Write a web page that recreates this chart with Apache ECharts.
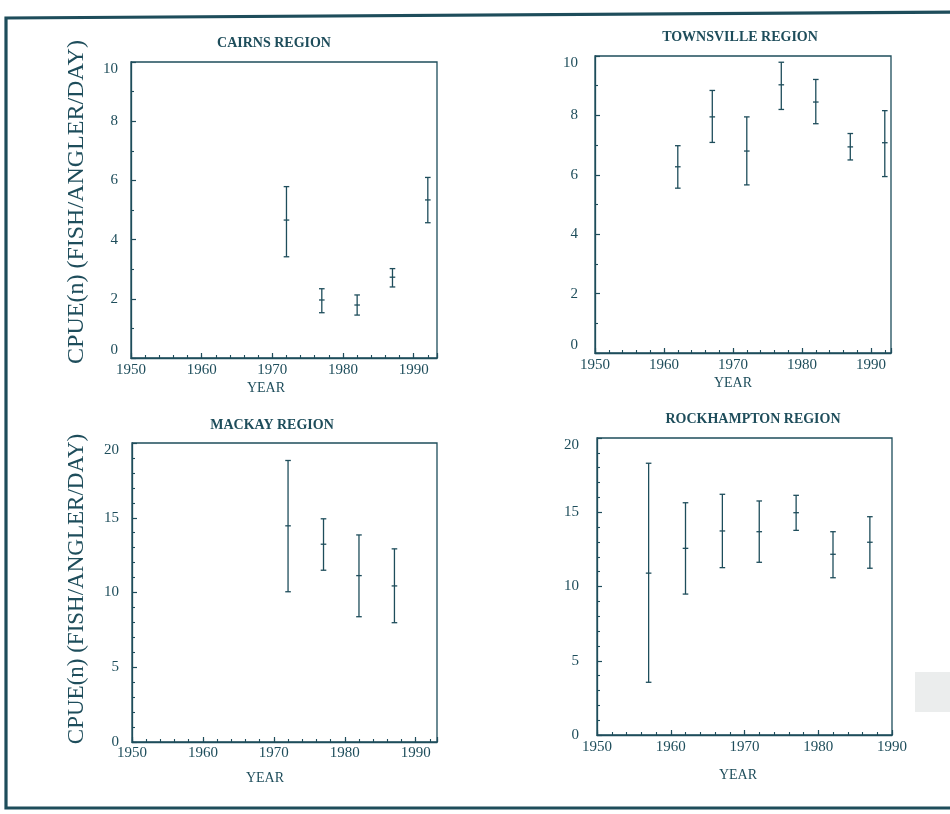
<!DOCTYPE html>
<html><head><meta charset="utf-8">
<script src="https://cdn.jsdelivr.net/npm/echarts@6/dist/echarts.min.js"></script>
<style>html,body{margin:0;padding:0;background:#fff}#c{width:950px;height:814px}</style>
</head><body><div id="c"></div>
<script>
// ---- data ----
const cairnsYears = [1972, 1977, 1982, 1987, 1992];
const cairnsMean  = [4.66, 1.96, 1.79, 2.73, 5.34];
const cairnsLow   = [3.42, 1.53, 1.45, 2.40, 4.57];
const cairnsHigh  = [5.79, 2.34, 2.13, 3.02, 6.10];

const townsvilleYears = [1962, 1967, 1972, 1977, 1982, 1987, 1992];
const townsvilleMean  = [6.27, 7.95, 6.80, 9.03, 8.45, 6.94, 7.08];
const townsvilleLow   = [5.55, 7.09, 5.66, 8.20, 7.72, 6.50, 5.94];
const townsvilleHigh  = [6.98, 8.84, 7.95, 9.79, 9.21, 7.39, 8.16];

const mackayYears = [1972, 1977, 1982, 1987];
const mackayMean  = [14.46, 13.23, 11.13, 10.44];
const mackayLow   = [10.05, 11.49, 8.38, 7.98];
const mackayHigh  = [18.83, 14.93, 13.85, 12.92];

const rockYears = [1957, 1962, 1967, 1972, 1977, 1982, 1987];
const rockMean  = [10.90, 12.57, 13.74, 13.69, 14.97, 12.17, 12.98];
const rockLow   = [3.55, 9.49, 11.27, 11.63, 13.78, 10.59, 11.23];
const rockHigh  = [18.30, 15.64, 16.21, 15.76, 16.14, 13.69, 14.70];

const yTicks10 = [0, 2, 4, 6, 8, 10];
const yTicks20 = [0, 5, 10, 15, 20];
const xTickLabels = [1950, 1960, 1970, 1980, 1990];

const titles = ['CAIRNS REGION', 'TOWNSVILLE REGION', 'MACKAY REGION', 'ROCKHAMPTON REGION'];
const yName = 'CPUE(n) (FISH/ANGLER/DAY)';
const xName = 'YEAR';

// ---- style ----
const INK = '#1e4d5b';
const FONT = '"Liberation Serif", "Times New Roman", serif';

function rows(years, mean, low, high) {
  return years.map((y, i) => [y, mean[i], low[i], high[i]]);
}

function errRender(params, api) {
  const x = api.value(0), m = api.value(1), lo = api.value(2), hi = api.value(3);
  const pm = api.coord([x, m]), pl = api.coord([x, lo]), ph = api.coord([x, hi]);
  const w = 2.8;
  const style = { stroke: INK, lineWidth: 1.3 };
  return { type: 'group', children: [
    { type: 'line', shape: { x1: pl[0], y1: pl[1], x2: ph[0], y2: ph[1] }, style },
    { type: 'line', shape: { x1: ph[0] - w, y1: ph[1], x2: ph[0] + w, y2: ph[1] }, style },
    { type: 'line', shape: { x1: pl[0] - w, y1: pl[1], x2: pl[0] + w, y2: pl[1] }, style },
    { type: 'line', shape: { x1: pm[0] - w, y1: pm[1], x2: pm[0] + w, y2: pm[1] }, style }
  ]};
}

const panels = [
  { grid: { left: 131, top: 62, width: 306, height: 296 }, xMax: 1993.3, yMax: 10, yStep: 2, yMinor: 2,
    yMargin: 13, xMargin: 5, minBottom: true, data: rows(cairnsYears, cairnsMean, cairnsLow, cairnsHigh) },
  { grid: { left: 595, top: 56, width: 296, height: 297 }, xMax: 1992.9, yMax: 10, yStep: 2, yMinor: 2,
    yMargin: 17, xMargin: 5, minBottom: true, data: rows(townsvilleYears, townsvilleMean, townsvilleLow, townsvilleHigh) },
  { grid: { left: 132, top: 443, width: 305, height: 299 }, xMax: 1993.0, yMax: 20, yStep: 5, yMinor: 5,
    yMargin: 13, xMargin: 4, minBottom: false, data: rows(mackayYears, mackayMean, mackayLow, mackayHigh) },
  { grid: { left: 597, top: 438, width: 295, height: 297 }, xMax: 1990, yMax: 20, yStep: 5, yMinor: 5,
    yMargin: 18, xMargin: 5, minBottom: false, data: rows(rockYears, rockMean, rockLow, rockHigh) }
];

const grids = [], xAxes = [], yAxes = [], series = [];
panels.forEach((p, i) => {
  grids.push(Object.assign({ show: true, borderColor: INK, borderWidth: 1.3, backgroundColor: 'transparent' }, p.grid));
  const labelStyle = { color: INK, fontFamily: FONT, fontSize: 15 };
  xAxes.push({
    type: 'value', gridIndex: i, position: 'bottom', min: 1950, max: p.xMax, interval: 10,
    axisLine: { show: true, lineStyle: { color: INK, width: 1.3 } },
    axisTick: { show: true, inside: true, length: 5, lineStyle: { color: INK, width: 1.2 } },
    axisLabel: Object.assign({ margin: p.xMargin,
      formatter: v => (xTickLabels.indexOf(Math.round(v * 1000) / 1000) >= 0 ? String(v) : '') }, labelStyle),
    splitLine: { show: false }
  });
  xAxes.push({
    type: 'value', gridIndex: i, position: 'bottom', min: 1950, max: p.xMax, interval: 2,
    axisLine: { show: false },
    axisTick: { show: true, inside: true, length: 3, lineStyle: { color: INK, width: 1.1 } },
    axisLabel: { show: false }, splitLine: { show: false }
  });
  const yTicks = p.yMax === 10 ? yTicks10 : yTicks20;
  yAxes.push({
    type: 'value', gridIndex: i, min: 0, max: p.yMax, interval: p.yStep,
    axisLine: { show: true, lineStyle: { color: INK, width: 1.3 } },
    axisTick: { show: true, inside: true, length: 5, lineStyle: { color: INK, width: 1.2 } },
    minorTick: { show: true, splitNumber: p.yMinor, length: 3, lineStyle: { color: INK, width: 1.1 } },
    axisLabel: Object.assign({ margin: p.yMargin,
      formatter: v => (yTicks.indexOf(v) >= 0 ? String(v) : ''),
      verticalAlignMaxLabel: 'top',
      verticalAlignMinLabel: p.minBottom ? 'bottom' : 'middle' }, labelStyle),
    splitLine: { show: false }, minorSplitLine: { show: false }
  });
  series.push({
    type: 'custom', xAxisIndex: 2 * i, yAxisIndex: i,
    renderItem: errRender, encode: { x: 0, y: [1, 2, 3] },
    data: p.data, clip: true, silent: true
  });
});

const titleFont = 'bold 14px ' + FONT;
const txt = (x, y, text, font, extra) => Object.assign({
  type: 'text', x, y, silent: true,
  style: { text, font, fill: INK, align: 'center', verticalAlign: 'middle' }
}, extra || {});

const graphic = [
  { type: 'polyline', silent: true, shape: { points: [[955, 12], [6, 18], [6, 808], [955, 808]] },
    style: { stroke: INK, lineWidth: 3.2, fill: null } },
  { type: 'rect', silent: true, shape: { x: 915, y: 672, width: 40, height: 40 }, style: { fill: '#ebeded' } },
  txt(274, 43, titles[0], titleFont),
  txt(740, 37, titles[1], titleFont),
  txt(272, 425, titles[2], titleFont),
  txt(753, 419, titles[3], titleFont),
  txt(266, 388, xName, '14px ' + FONT),
  txt(733, 383, xName, '14px ' + FONT),
  txt(265, 778, xName, '14px ' + FONT),
  txt(738, 775, xName, '14px ' + FONT),
  txt(77, 202, yName, '24px ' + FONT, { rotation: Math.PI / 2 }),
  txt(77, 589, yName, '23px ' + FONT, { rotation: Math.PI / 2 })
];

const chart = echarts.init(document.getElementById('c'), null, { renderer: 'canvas' });
chart.setOption({
  backgroundColor: '#ffffff',
  animation: false,
  grid: grids, xAxis: xAxes, yAxis: yAxes, series: series,
  graphic: graphic
});
</script>
</body></html>
